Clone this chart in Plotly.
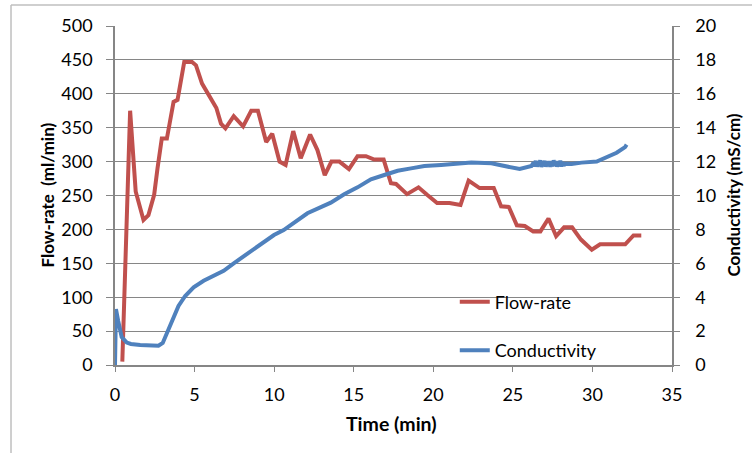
import plotly.graph_objects as go

# Flow-rate (ml/min) vs time (min)
flow_time = [0.46, 0.95, 1.30, 1.79, 2.10, 2.46, 2.67, 2.94, 3.26, 3.68, 3.93, 4.35, 4.84, 5.09,
             5.47, 5.78, 6.10, 6.37, 6.66, 6.94, 7.46, 8.05, 8.56, 8.98, 9.50, 9.88, 10.34, 10.72,
             11.20, 11.67, 12.26, 12.72, 13.18, 13.60, 14.10, 14.70, 15.24, 15.77, 16.29, 16.88,
             17.34, 17.66, 18.35, 19.07, 19.61, 20.24, 21.02, 21.71, 22.22, 22.91, 23.80, 24.26,
             24.75, 25.25, 25.75, 26.28, 26.73, 27.24, 27.72, 28.22, 28.72, 29.28, 29.96, 30.48,
             32.06, 32.58, 33.07]
flow_rate = [5, 375, 256, 214, 221, 251, 290, 334, 334, 388, 391, 447, 447, 442,
             415, 403, 391, 379, 356, 349, 367, 352, 375, 375, 329, 341, 300, 295,
             345, 305, 340, 317, 280, 300, 300, 289, 308, 308, 303, 303,
             268, 267, 252, 262, 251, 239, 239, 236, 272, 261, 261, 234,
             233, 206, 205, 197, 197, 216, 190, 203, 203, 185, 170, 178,
             178, 191, 191]

# Conductivity (mS/cm) vs time (min)
cond_time = [0.00, 0.06, 0.20, 0.42, 0.74, 1.00, 1.58, 2.20, 2.73, 3.00, 3.26, 3.57, 3.99, 4.41,
             4.94, 5.57, 6.31, 6.83, 7.46, 8.31, 9.15, 9.99, 10.60, 11.30, 12.09, 13.56, 14.40,
             15.24, 16.08, 16.92, 17.76, 18.60, 19.44, 20.49, 21.54, 22.39, 23.65, 24.49, 25.43,
             26.17, 26.30, 26.37, 26.44, 26.51, 26.58, 26.65, 26.72, 26.79, 26.86, 26.93, 27.00,
             27.07, 27.14, 27.21, 27.28, 27.35, 27.42, 27.49, 27.56, 27.63, 27.70, 27.77, 27.84,
             27.91, 27.98, 28.05, 28.12, 28.19, 28.26, 28.69, 29.32,
             30.27, 31.00, 31.52, 32.05, 32.15]
conductivity = [0.00, 3.30, 2.60, 1.65, 1.32, 1.24, 1.18, 1.15, 1.14, 1.30, 1.87, 2.65, 3.48, 4.07,
                4.58, 4.97, 5.31, 5.56, 6.00, 6.55, 7.15, 7.67, 7.96, 8.40, 8.95, 9.58, 10.07,
                10.48, 10.96, 11.21, 11.46, 11.60, 11.74, 11.80, 11.86, 11.94, 11.90, 11.74, 11.56,
                11.74, 11.95, 11.72, 12.05, 11.70, 11.98, 11.75, 12.08, 11.68, 11.96, 11.73, 12.05,
                11.70, 11.97, 11.74, 12.02, 11.69, 11.95, 11.72, 12.08, 11.76, 12.03, 11.70, 11.98,
                11.73, 12.06, 11.71, 11.97, 11.76, 11.88, 11.86, 11.94,
                12.00, 12.29, 12.52, 12.85, 13.00]

x_ticks = [0, 5, 10, 15, 20, 25, 30, 35]
flow_ticks = [0, 50, 100, 150, 200, 250, 300, 350, 400, 450, 500]
cond_ticks = [0, 2, 4, 6, 8, 10, 12, 14, 16, 18, 20]

FONT = "Lato, 'Liberation Sans', sans-serif"
RED = "#C0504D"
BLUE = "#4F81BD"
AX = "#868686"

fig = go.Figure()
fig.add_trace(go.Scatter(x=flow_time, y=flow_rate, mode="lines", name="Flow-rate",
                         line=dict(color=RED, width=4), legendgroup="a"))
fig.add_trace(go.Scatter(x=cond_time, y=conductivity, mode="lines", name="Conductivity",
                         line=dict(color=BLUE, width=4), yaxis="y2", legendgroup="b"))

fig.update_layout(
    width=752, height=453,
    margin=dict(l=115, r=80, t=26, b=88),
    paper_bgcolor="white", plot_bgcolor="white",
    font=dict(family=FONT, size=18, color="#000000"),
    showlegend=True,
    legend=dict(x=0.61, y=0.24, xanchor="left", yanchor="top", bgcolor="rgba(0,0,0,0)",
                traceorder="grouped", tracegroupgap=22, font=dict(size=18)),
    xaxis=dict(range=[0, 35], tickvals=x_ticks, showgrid=False, zeroline=False,
               showline=True, linecolor=AX, linewidth=1.5, ticks="outside", ticklen=5,
               tickcolor=AX, tickwidth=1.2, ticklabelstandoff=8),
    yaxis=dict(range=[0, 500], tickvals=flow_ticks, showgrid=True, gridcolor=AX, gridwidth=1.4,
               zeroline=False, showline=True, linecolor=AX, linewidth=1.5, ticks="outside",
               ticklen=7, tickcolor=AX, tickwidth=1.2, ticklabelstandoff=10),
    yaxis2=dict(range=[0, 20], tickvals=cond_ticks, overlaying="y", side="right", showgrid=False,
                zeroline=False, showline=True, linecolor=AX, linewidth=1.5, ticks="outside",
                ticklen=6, tickcolor=AX, tickwidth=1.2, ticklabelstandoff=12),
    annotations=[
        dict(text="<b>Time (min)</b>", xref="paper", yref="paper", x=0.497, y=0,
             xanchor="center", yanchor="middle", yshift=-58, showarrow=False,
             font=dict(size=19.5)),
        dict(text="<b>Flow-rate  (ml/min)</b>", xref="paper", yref="paper", x=0, y=0.5,
             xanchor="center", yanchor="middle", xshift=-68, textangle=-90, showarrow=False,
             font=dict(size=17)),
        dict(text="<b>Conductivity (mS/cm)</b>", xref="paper", yref="paper", x=1, y=0.5,
             xanchor="center", yanchor="middle", xshift=61, textangle=-90, showarrow=False,
             font=dict(size=17)),
    ],
    shapes=[
        dict(type="line", xref="paper", yref="paper", x0=-0.1867, x1=1.2, y0=1.062, y1=1.062,
             line=dict(color="#BFBFBF", width=1.5)),
        dict(type="line", xref="paper", yref="paper", x0=-0.1867, x1=-0.1867, y0=1.062, y1=-0.3,
             line=dict(color="#BFBFBF", width=1.5)),
    ],
)

fig.write_html("out.html")
